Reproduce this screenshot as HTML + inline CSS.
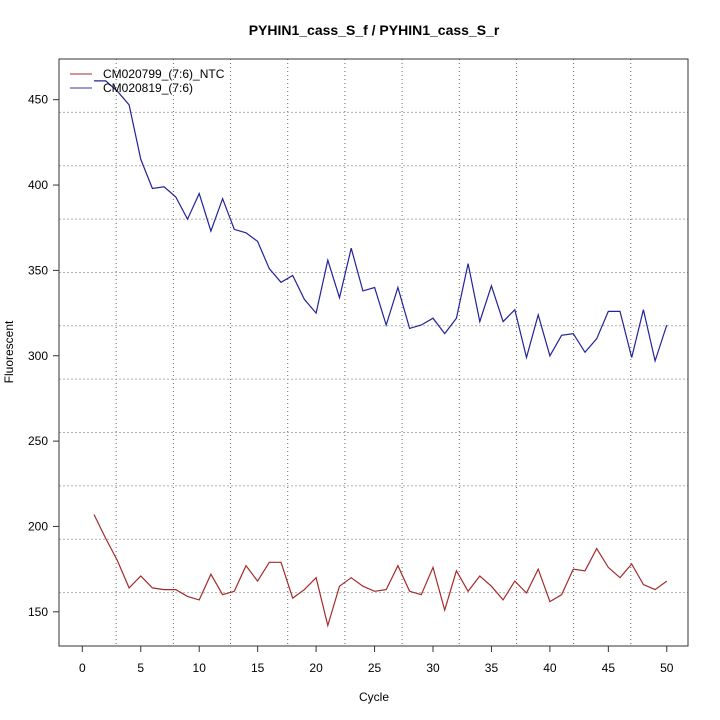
<!DOCTYPE html><html><head><meta charset="utf-8"><style>body{margin:0;background:#fff}svg{display:block}text{font-family:"Liberation Sans",sans-serif}</style></head><body>
<svg id="s" width="720" height="720" xmlns="http://www.w3.org/2000/svg">
<text x="374" y="35" font-size="14" font-weight="bold" text-anchor="middle">PYHIN1_cass_S_f / PYHIN1_cass_S_r</text>
<text x="374" y="701" font-size="12" text-anchor="middle">Cycle</text>
<text transform="translate(13,352) rotate(-90)" font-size="12" text-anchor="middle">Fluorescent</text>
<g id="g"></g>
<rect x="59" y="59" width="629" height="587" fill="none" stroke="#333" stroke-width="1"/>
<line x1="70" y1="74" x2="92" y2="74" stroke="#a52a2a"/><text x="103" y="78" font-size="12">CM020799_(7:6)_NTC</text>
<line x1="70" y1="88" x2="92" y2="88" stroke="#3333aa"/><text x="103" y="92" font-size="12">CM020819_(7:6)</text>
</svg>
<script>
const g=document.getElementById('g');let h='';
const X=c=>82.3+c*11.69, Y=v=>99.7+(450-v)*1.707;
for(let k=1;k<11;k++){const x=59+k*57.18,y=59+k*53.36;
h+=`<line x1="${x}" y1="59" x2="${x}" y2="646" stroke="#666" stroke-dasharray="1,3"/>`;
h+=`<line x1="59" y1="${y}" x2="688" y2="${y}" stroke="#b0b0b0" stroke-dasharray="2,2"/>`;}
for(let c=0;c<=50;c+=5){const x=X(c);h+=`<line x1="${x}" y1="646" x2="${x}" y2="652" stroke="#333"/><text x="${x}" y="672" font-size="12" text-anchor="middle">${c}</text>`;}
for(let v=150;v<=450;v+=50){const y=Y(v);h+=`<line x1="53" y1="${y}" x2="59" y2="${y}" stroke="#333"/><text x="48" y="${y+4}" font-size="12" text-anchor="end">${v}</text>`;}
const b=[461,461,455,447,415,398,399,393,380,395,373,392,374,372,367,351,343,347,333,325,356,334,363,338,340,318,340,316,318,322,313,322,354,320,341,320,327,299,324,300,312,313,302,310,326,326,299,327,297,318];
const r=[207,193,180,164,171,164,163,163,159,157,172,160,162,177,168,179,179,158,163,170,142,165,170,165,162,163,177,162,160,176,151,174,162,171,165,157,168,161,175,156,160,175,174,187,176,170,178,166,163,168];
const p=a=>a.map((v,i)=>X(i+1).toFixed(1)+','+Y(v).toFixed(1)).join(' ');
h+=`<polyline points="${p(b)}" fill="none" stroke="#22229a" stroke-width="1.2"/>`;
h+=`<polyline points="${p(r)}" fill="none" stroke="#a52a2a" stroke-width="1.2"/>`;
g.innerHTML=h;
</script></body></html>
